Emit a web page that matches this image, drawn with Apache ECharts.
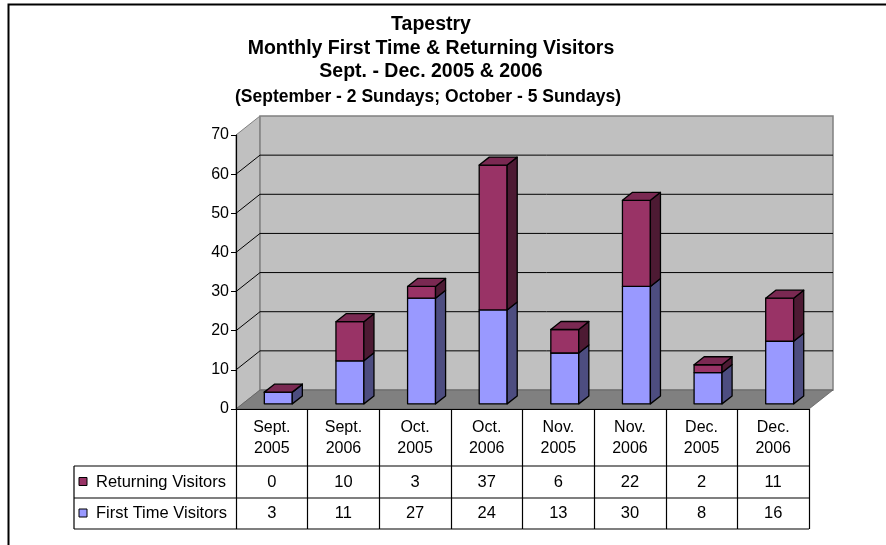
<!DOCTYPE html>
<html><head><meta charset="utf-8">
<script src="https://cdn.jsdelivr.net/npm/echarts@6/dist/echarts.min.js"></script>
<style>html,body{margin:0;padding:0;background:#fff}#c{width:886px;height:545px}</style>
</head><body><div id="c"></div>
<script>
// ---- data ----
const categories = ['Sept. 2005','Sept. 2006','Oct. 2005','Oct. 2006','Nov. 2005','Nov. 2006','Dec. 2005','Dec. 2006'];
const returningVisitors = [0,10,3,37,6,22,2,11];
const firstTimeVisitors = [3,11,27,24,13,30,8,16];
const yTicks = [0,10,20,30,40,50,60,70];
const seriesNames = ['Returning Visitors','First Time Visitors'];

// ---- style ----
const FONT = 'Liberation Sans, Arial, sans-serif';
const DEPTH = [24,-19];
const COLORS = {
  blueFront:'#9999ff', blueSide:'#4d4d80',
  redFront:'#993366', redSide:'#4d1a33', redTop:'#7a2952',
  wall:'#c0c0c0', floor:'#808080'
};

function renderWalls(params, api){
  const cs = params.coordSys;
  const x0 = cs.x, x1 = cs.x + cs.width, yT = cs.y, yB = cs.y + cs.height;
  const dx = DEPTH[0], dy = DEPTH[1];
  const ch = [];
  ch.push({type:'polygon', shape:{points:[[x0,yB],[x0,yT],[x0+dx,yT+dy],[x0+dx,yB+dy]]},
    style:{fill:COLORS.wall, stroke:'#808080', lineWidth:1}});
  ch.push({type:'rect', shape:{x:x0+dx, y:yT+dy, width:cs.width, height:cs.height},
    style:{fill:COLORS.wall, stroke:'#808080', lineWidth:1.5}});
  const maxT = yTicks[yTicks.length-1];
  yTicks.forEach(v=>{
    if (v===0 || v===maxT) return;
    const y = api.coord([0,v])[1];
    ch.push({type:'polyline', shape:{points:[[x0,y],[x0+dx,y+dy],[x1+dx,y+dy]]},
      style:{stroke:'#000', lineWidth:1, fill:null}});
  });
  ch.push({type:'polygon', shape:{points:[[x0,yB],[x1,yB],[x1+dx,yB+dy],[x0+dx,yB+dy]]},
    style:{fill:COLORS.floor, stroke:'#606060', lineWidth:0.8}});
  return {type:'group', children:ch};
}

function renderBars(params, api){
  const i = api.value(0), f = api.value(1), r = api.value(2);
  const base = api.coord([i,0]);
  const cw = api.size([1,0])[0];
  const w = cw*0.39;
  const fx = DEPTH[0]*0.27, fy = DEPTH[1]*0.27;
  const bx = DEPTH[0]*0.42, by = DEPTH[1]*0.42;
  const xl = base[0]-w/2+fx, xr = base[0]+w/2+fx;
  const y0 = base[1]+fy, y1 = api.coord([i,f])[1]+fy, y2 = api.coord([i,f+r])[1]+fy;
  const edge = {stroke:'#000', lineWidth:1.3, lineJoin:'round'};
  const seg = (ya,yb,front,side)=>[
    {type:'rect', shape:{x:xl, y:yb, width:xr-xl, height:ya-yb}, style:Object.assign({fill:front},edge)},
    {type:'polygon', shape:{points:[[xr,ya],[xr,yb],[xr+bx,yb+by],[xr+bx,ya+by]]}, style:Object.assign({fill:side},edge)}
  ];
  const ch = [].concat(
    seg(y0,y1,COLORS.blueFront,COLORS.blueSide),
    seg(y1,y2,COLORS.redFront,COLORS.redSide),
    [{type:'polygon', shape:{points:[[xl,y2],[xr,y2],[xr+bx,y2+by],[xl+bx,y2+by]]}, style:Object.assign({fill:COLORS.redTop},edge)}]
  );
  return {type:'group', children:ch};
}

function renderTable(params, api){
  const cs = params.coordSys;
  const i = api.value(0);
  const c = api.coord([i,0]);
  const cw = api.size([1,0])[0];
  const yB = cs.y + cs.height;
  const rows = [yB+57, yB+89, yB+120];
  const ch = [];
  const line = (xa,ya,xb,yb)=>({type:'line', shape:{x1:xa,y1:ya,x2:xb,y2:yb}, style:{stroke:'#000', lineWidth:1.2}});
  rows.forEach(y=>ch.push(line(c[0]-cw/2, y, c[0]+cw/2, y)));
  const txt = (x,y,t,align)=>({type:'text', x:x, y:y, style:{text:String(t), x:0, y:0, align:align||'center', verticalAlign:'middle', font:'16.5px '+FONT, fill:'#000'}});
  ch.push(txt(c[0], (rows[0]+rows[1])/2, api.value(1)));
  ch.push(txt(c[0], (rows[1]+rows[2])/2, api.value(2)));
  if (i===0){
    const lx = 74;
    rows.forEach(y=>ch.push(line(lx, y, cs.x, y)));
    ch.push(line(lx, rows[0], lx, rows[2]));
    const keys = [COLORS.redFront, COLORS.blueFront];
    for (let k=0;k<2;k++){
      const cy = (rows[k]+rows[k+1])/2;
      ch.push({type:'rect', shape:{x:lx+5, y:cy-4.5, width:8, height:8}, style:{fill:keys[k], stroke:'#000', lineWidth:1}});
      ch.push(txt(lx+22, cy, seriesNames[k], 'left'));
    }
  }
  return {type:'group', children:ch};
}

const chart = echarts.init(document.getElementById('c'), null, {renderer:'canvas'});
chart.setOption({
  backgroundColor:'#fff',
  animation:false,
  title:[
    {text:'Tapestry\nMonthly First Time & Returning Visitors\nSept. - Dec. 2005 & 2006',
     left:431, top:13, textAlign:'center', padding:0,
     textStyle:{fontFamily:FONT, fontSize:19.5, fontWeight:'bold', lineHeight:23.5, color:'#000'}},
    {text:'(September - 2 Sundays; October - 5 Sundays)',
     left:428, top:87, textAlign:'center', padding:0,
     textStyle:{fontFamily:FONT, fontSize:17.5, fontWeight:'bold', lineHeight:20, color:'#000'}}
  ],
  graphic:[{type:'polyline', shape:{points:[[8.5,545],[8.5,4.5],[886,4.5]]}, style:{stroke:'#000', lineWidth:2, fill:null}}],
  grid:{left:236, right:77, top:135, bottom:136, containLabel:false},
  xAxis:{type:'category', data:categories, z:10,
    axisLine:{lineStyle:{color:'#000', width:1.2}},
    axisTick:{show:true, length:120, interval:0, lineStyle:{color:'#000', width:1.2}},
    axisLabel:{interval:0, margin:8, color:'#000', fontFamily:FONT, fontSize:16, lineHeight:21,
      formatter:v=>v.replace(' ','\n')},
    splitLine:{show:false}},
  yAxis:{type:'value', min:0, max:70, interval:10, z:10,
    axisLine:{show:true, lineStyle:{color:'#000', width:1.2}},
    axisTick:{show:true, length:5, lineStyle:{color:'#000'}},
    axisLabel:{margin:7, color:'#000', fontFamily:FONT, fontSize:16},
    splitLine:{show:false}},
  series:[
    {type:'custom', name:'walls', z:1, silent:true, renderItem:renderWalls, data:[[0,0]], encode:{x:0,y:1}},
    {type:'custom', name:'bars', z:4, renderItem:renderBars,
      data:categories.map((c,i)=>[i, firstTimeVisitors[i], returningVisitors[i]]), encode:{x:0, y:[1,2]}},
    {type:'custom', name:'table', z:3, renderItem:renderTable,
      data:categories.map((c,i)=>[i, returningVisitors[i], firstTimeVisitors[i]]), encode:{x:0, y:[1,2]}}
  ]
});
</script></body></html>
